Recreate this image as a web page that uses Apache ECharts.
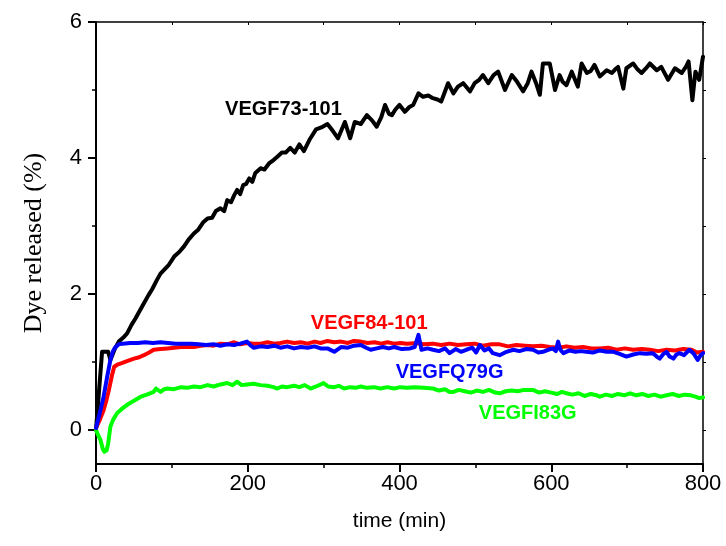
<!DOCTYPE html>
<html>
<head>
<meta charset="utf-8">
<script src="https://cdn.jsdelivr.net/npm/echarts@6/dist/echarts.min.js"></script>
<style>html,body{margin:0;padding:0;background:#fff;}#c{width:726px;height:546px;}</style>
</head>
<body>
<div id="c"></div>
<script>
// ---- data ----
var xTicks = [0, 200, 400, 600, 800];
var yTicks = [0, 2, 4, 6];
var yMinorTicks = [1, 3, 5];

var tBlack = [0,8,16,19,25,30,36,41,47,52,58,63,69,74,80,85,90,96,103,110,116,122,129,135,141,147,153,158,164,169,173,178,182,186,190,194,198,202,206,210,217,222,228,234,239,245,250,256,262,268,274,282,290,297,305,312,319,328,335,341,349,357,364,370,376,381,386,390,395,400,407,413,418,425,431,438,444,450,455,464,471,477,484,493,499,505,510,517,524,530,539,548,555,563,569,574,580,585,589,598,605,611,615,620,627,635,640,647,652,657,664,673,680,684,688,695,699,708,714,719,725,730,739,745,754,763,772,778,781,786,790,795,800];
var vBlack = [0,1.15,1.15,1.03,1.2,1.3,1.36,1.42,1.55,1.64,1.76,1.86,1.98,2.07,2.2,2.3,2.36,2.43,2.55,2.62,2.7,2.8,2.89,2.95,3.05,3.11,3.12,3.22,3.26,3.22,3.38,3.35,3.45,3.53,3.47,3.6,3.62,3.7,3.65,3.78,3.85,3.83,3.92,3.97,4.02,4.08,4.08,4.15,4.08,4.2,4.1,4.28,4.42,4.45,4.5,4.4,4.29,4.53,4.29,4.53,4.5,4.63,4.55,4.46,4.6,4.78,4.65,4.63,4.72,4.78,4.68,4.75,4.78,4.95,4.9,4.92,4.88,4.86,4.83,5.1,4.95,5.05,5.1,4.98,5.1,5.15,5.22,5.1,5.22,5.27,5.0,5.22,5.12,4.98,5.1,5.27,5.1,4.93,5.39,5.39,5.0,5.22,5.12,5.07,5.27,5.05,5.39,5.25,5.28,5.37,5.2,5.29,5.25,5.3,5.34,5.02,5.32,5.39,5.3,5.25,5.32,5.39,5.29,5.34,5.15,5.32,5.25,5.35,5.42,4.85,5.27,5.15,5.49];

var tRed = [0,5,10,14,17,21,24,28,33,40,50,57,63,70,76,85,94,103,112,120,129,138,147,155,164,173,182,190,199,208,217,226,235,243,252,261,270,279,288,296,305,314,323,332,340,349,358,367,376,384,393,401,410,423,432,444,455,466,477,488,499,510,521,532,543,554,565,576,587,598,609,620,631,642,653,664,675,686,697,708,719,730,741,752,763,774,785,792,800];
var vRed = [0.03,0.15,0.29,0.45,0.59,0.8,0.93,0.96,0.98,1.01,1.05,1.07,1.1,1.14,1.18,1.19,1.2,1.21,1.22,1.22,1.22,1.24,1.25,1.24,1.27,1.26,1.29,1.26,1.28,1.27,1.27,1.29,1.27,1.28,1.3,1.28,1.29,1.27,1.3,1.28,1.31,1.29,1.3,1.28,1.31,1.3,1.28,1.29,1.27,1.29,1.27,1.28,1.27,1.28,1.26,1.27,1.25,1.27,1.25,1.26,1.27,1.24,1.26,1.26,1.23,1.25,1.24,1.23,1.24,1.22,1.21,1.23,1.21,1.22,1.2,1.2,1.21,1.18,1.2,1.18,1.19,1.18,1.16,1.18,1.17,1.19,1.18,1.14,1.15];

var tBlue = [0,5,10,15,19,22,25,30,35,45,55,65,75,85,95,105,115,125,135,145,155,164,173,182,190,199,204,208,217,226,235,243,252,261,270,279,288,296,305,314,323,332,340,349,356,362,370,378,386,393,403,414,420,425,429,437,444,452,460,466,474,481,488,496,501,506,512,518,523,532,541,550,558,567,576,583,589,596,602,606,609,612,616,624,632,639,646,655,664,673,682,690,699,708,717,725,734,739,743,748,752,756,761,765,769,775,782,788,793,797,800];
var vBlue = [0.03,0.25,0.49,0.8,1.03,1.15,1.21,1.26,1.27,1.28,1.28,1.29,1.28,1.29,1.28,1.27,1.27,1.27,1.26,1.25,1.26,1.24,1.26,1.25,1.27,1.3,1.24,1.21,1.23,1.22,1.24,1.21,1.23,1.2,1.22,1.21,1.23,1.2,1.2,1.15,1.22,1.21,1.24,1.25,1.21,1.18,1.2,1.22,1.2,1.22,1.19,1.2,1.22,1.4,1.18,1.2,1.18,1.16,1.2,1.13,1.19,1.15,1.18,1.21,1.14,1.25,1.17,1.2,1.13,1.1,1.15,1.18,1.16,1.19,1.18,1.14,1.15,1.18,1.2,1.16,1.3,1.18,1.13,1.17,1.15,1.16,1.15,1.14,1.17,1.15,1.15,1.12,1.08,1.11,1.13,1.12,1.13,1.08,1.05,1.12,1.15,1.08,1.05,1.11,1.13,1.1,1.18,1.12,1.03,1.1,1.13];

var tGreen = [0,3,6,9,11,14,16,19,23,28,34,41,50,59,67,76,79,85,90,94,103,112,120,129,138,147,155,164,173,180,186,192,199,208,217,226,234,239,245,252,261,268,275,283,290,300,306,314,320,327,335,342,349,357,366,375,384,393,401,410,420,432,444,452,460,466,471,478,486,494,502,510,518,526,532,540,548,556,564,576,584,592,600,608,614,620,628,636,644,652,660,664,672,680,688,696,704,712,720,728,736,744,752,760,768,776,784,790,795,800];
var vGreen = [0,-0.08,-0.15,-0.28,-0.32,-0.3,-0.2,0.05,0.16,0.25,0.31,0.37,0.43,0.49,0.52,0.56,0.61,0.56,0.6,0.61,0.6,0.63,0.62,0.64,0.63,0.66,0.64,0.67,0.69,0.66,0.71,0.66,0.67,0.68,0.66,0.65,0.63,0.61,0.64,0.63,0.65,0.63,0.66,0.61,0.64,0.69,0.64,0.63,0.65,0.61,0.63,0.62,0.64,0.62,0.63,0.61,0.63,0.61,0.63,0.62,0.63,0.62,0.61,0.58,0.6,0.56,0.56,0.59,0.57,0.55,0.58,0.56,0.59,0.55,0.54,0.57,0.58,0.57,0.59,0.59,0.55,0.57,0.55,0.53,0.56,0.54,0.52,0.54,0.5,0.53,0.51,0.49,0.52,0.5,0.53,0.51,0.54,0.51,0.53,0.5,0.52,0.49,0.51,0.53,0.5,0.52,0.51,0.49,0.47,0.48];

var seriesNames = ['VEGF73-101', 'VEGF84-101', 'VEGFQ79G', 'VEGFI83G'];
var seriesColors = ['#000000', '#ff0000', '#0000ff', '#00ff00'];
// label anchor positions in data coordinates (time, dye %)
var labelT = [247, 360, 466, 569];
var labelV = [4.71, 1.57, 0.84, 0.25];

function pairs(t, v) { return t.map(function (x, i) { return [x, v[i]]; }); }
var allData = [pairs(tBlack, vBlack), pairs(tRed, vRed), pairs(tBlue, vBlue), pairs(tGreen, vGreen)];

var SANS = 'Liberation Sans, Arial, sans-serif';
var chart = echarts.init(document.getElementById('c'), null, {renderer: 'canvas'});

var drawOrder = [0, 3, 1, 2];
var series = drawOrder.map(function (k) {
  return {
    name: seriesNames[k],
    type: 'line',
    data: allData[k],
    xAxisIndex: 0, yAxisIndex: 0,
    showSymbol: false,
    symbol: 'none',
    smooth: false,
    animation: false,
    lineStyle: {color: seriesColors[k], width: 4, join: 'round', cap: 'round'},
    markPoint: {
      symbol: 'circle', symbolSize: 1,
      itemStyle: {color: 'rgba(0,0,0,0)'},
      animation: false,
      label: {
        show: true, position: 'inside', formatter: seriesNames[k],
        color: seriesColors[k], fontFamily: SANS, fontWeight: 'bold', fontSize: 20
      },
      data: [{coord: [labelT[k], labelV[k]]}]
    }
  };
});

var axisLineStyle = {color: '#000', width: 2};
chart.setOption({
  backgroundColor: '#fff',
  animation: false,
  grid: {left: 96, right: 23, top: 22, bottom: 82, containLabel: false},
  xAxis: [{
    type: 'value', position: 'bottom', min: 0, max: 800, interval: 200,
    name: 'time (min)', nameLocation: 'middle', nameGap: 47,
    nameTextStyle: {fontFamily: SANS, fontSize: 21, color: '#000'},
    axisLine: {show: true, onZero: false, lineStyle: axisLineStyle},
    axisTick: {show: true, inside: false, length: 8, lineStyle: {color: '#000', width: 2}},
    minorTick: {show: true, splitNumber: 2, length: 4, lineStyle: {color: '#000', width: 1.5}},
    axisLabel: {fontFamily: SANS, fontSize: 22, color: '#000', margin: 9,
      customValues: xTicks},
    splitLine: {show: false}, minorSplitLine: {show: false}
  }, {
    type: 'value', position: 'top', min: 0, max: 800, interval: 100,
    axisLine: {show: true, onZero: false, lineStyle: {color: '#000', width: 1.5}},
    axisTick: {show: true, inside: true, length: 3, lineStyle: {color: '#000', width: 1}},
    axisLabel: {show: false}, splitLine: {show: false}
  }],
  yAxis: [{
    type: 'value', position: 'left', min: -0.5, max: 6,
    name: 'Dye released (%)', nameLocation: 'middle', nameGap: 49,
    nameTextStyle: {fontFamily: 'Liberation Serif, Times New Roman, serif', fontSize: 26, color: '#000'},
    axisLine: {show: true, onZero: false, lineStyle: axisLineStyle},
    axisTick: {show: true, inside: false, length: 8, customValues: yTicks, lineStyle: {color: '#000', width: 2}},
    axisLabel: {fontFamily: SANS, fontSize: 22, color: '#000', margin: 14, customValues: yTicks},
    splitLine: {show: false}
  }, {
    type: 'value', position: 'left', offset: 0, min: -0.5, max: 6,
    axisLine: {show: false, onZero: false},
    axisTick: {show: true, inside: false, length: 4, customValues: yMinorTicks, lineStyle: {color: '#000', width: 1.5}},
    axisLabel: {show: false, customValues: yMinorTicks},
    splitLine: {show: false}
  }, {
    type: 'value', position: 'right', min: -0.5, max: 6,
    axisLine: {show: true, onZero: false, lineStyle: {color: '#000', width: 1.5}},
    axisTick: {show: true, inside: false, length: 3, customValues: [0, 1, 2, 3, 4, 5, 6], lineStyle: {color: '#000', width: 1}},
    axisLabel: {show: false, customValues: [0, 1, 2, 3, 4, 5, 6]},
    splitLine: {show: false}
  }],
  series: series
});
</script>
</body>
</html>
